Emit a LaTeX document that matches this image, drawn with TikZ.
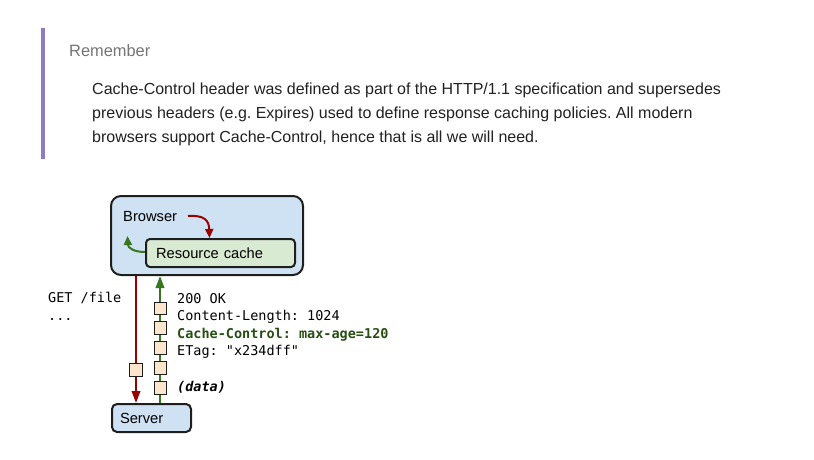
\documentclass[tikz,border=0pt]{standalone}
\usepackage{fontspec}
\setmainfont{Liberation Sans}
\setmonofont{DejaVu Sans Mono}
\usepackage{tikz}
\usetikzlibrary{arrows.meta}
\definecolor{barpurple}{RGB}{142,124,195}
\definecolor{browserblue}{RGB}{207,226,243}
\definecolor{cachegreen}{RGB}{217,234,211}
\definecolor{packet}{RGB}{252,229,205}
\definecolor{reqred}{RGB}{153,0,0}
\definecolor{respgreen}{RGB}{56,118,29}
\definecolor{hdrgreen}{RGB}{39,78,19}
\definecolor{edge}{RGB}{30,30,30}
\definecolor{bodytext}{RGB}{33,33,33}
\definecolor{labelgray}{RGB}{117,117,117}
\tikzstyle{bluebox} = [draw=edge, line width=2pt, fill=browserblue, rounded corners=10pt]
\tikzstyle{greenbox} = [draw=edge, line width=2pt, fill=cachegreen, rounded corners=4pt]
\tikzstyle{pkt} = [draw=edge, line width=0.8pt, fill=packet, minimum width=12pt, minimum height=12.5pt, inner sep=0pt]
\tikzstyle{mono} = [font=\ttfamily\fontsize{13.5}{16}\selectfont, anchor=base west, inner sep=0pt]
\tikzstyle{para} = [font=\fontsize{16}{19}\selectfont, text=bodytext, anchor=base west, inner sep=0pt]
\tikzstyle{boxtext} = [font=\fontsize{14.7}{17}\selectfont]
\tikzset{
  req/.style ={draw=reqred, line width=2pt, -{Triangle[length=12pt,width=8.5pt]}},
  resp/.style ={draw=respgreen, line width=2pt, -{Triangle[length=12pt,width=8.5pt]}},
  bend tip/.style ={-{Triangle[length=9pt,width=8pt]}}
}

\begin{document}
\frenchspacing
\begin{tikzpicture}[x=1pt,y=-1pt]
  \useasboundingbox (0,0) rectangle (814,460);

  % note block
  \fill[barpurple] (41,28) rectangle (45,159);
  \node[para, text=labelgray, font=\fontsize{16.4}{19}\selectfont] (remember) at (69,57) {Remember};
  \node[para] (line1) at (92,94) {Cache-Control header was defined as part of the HTTP/1.1 specification and supersedes};
  \node[para] (line2) at (92,118) {previous headers (e.g. Expires) used to define response caching policies. All modern};
  \node[para] (line3) at (92,142) {browsers support Cache-Control, hence that is all we will need.};

  % browser and server
  \node[bluebox, minimum width=192pt, minimum height=79pt] (browser) at (207,235.5) {};
  \node[boxtext, anchor=base west, inner sep=0pt] (browserlbl) at (123,221) {Browser};
  \node[greenbox, boxtext, text width=129pt, inner xsep=10pt, minimum height=28pt, align=left] (cache) at (220.5,253) {Resource cache};
  \node[bluebox, rounded corners=5pt, boxtext, text width=63pt, inner xsep=8pt, minimum height=28pt, align=left] (server) at (151.5,418) {Server};

  \coordinate (reqx) at (136,0);
  \coordinate (respx) at (160,0);
  \coordinate (lookup) at (188,216);
  \coordinate (serve) at (127.5,236);

  \begin{scope}[line width=1.8pt]
    \path[req, bend tip] (lookup) .. controls (204,215) and (209,220) .. ([xshift=-11pt]cache.north);
    \path[resp, bend tip] ([yshift=1pt]cache.west) .. controls (134,252) and (128,248) .. (serve);
  \end{scope}

  \path[req] (browser.south -| reqx) -- (server.north -| reqx);
  \path[resp] (server.north -| respx) -- (browser.south -| respx);

  % packets
  \node[pkt, minimum width=13pt, minimum height=13pt] (rq1) at (136,370) {};
  \foreach \y [count=\i] in {308.5,328,348,368,388}
    \node[pkt] (rs\i) at (160,\y) {};

  % request and response text
  \node[mono] (get) at (48,302) {GET /file};
  \node[mono] (dots) at (48,320) {...};
  \node[mono] (ok) at (177,303) {200 OK};
  \node[mono] (clen) at (177,320.5) {Content-Length: 1024};
  \node[mono, text=hdrgreen] (ccontrol) at (177,338) {\bfseries Cache-Control: max-age=120};
  \node[mono] (etag) at (177,355) {ETag: "x234dff"};
  \node[mono] (data) at (177,391) {\bfseries\itshape (data)};

\end{tikzpicture}
\end{document}
